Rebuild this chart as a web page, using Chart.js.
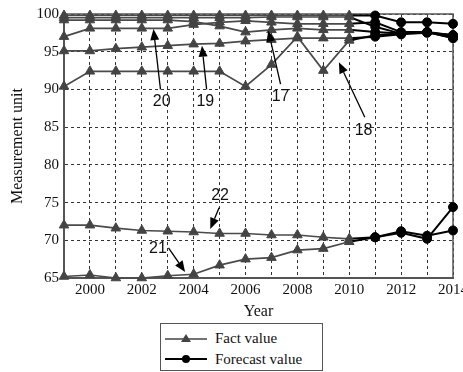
<!DOCTYPE html>
<html>
<head>
<meta charset="utf-8">
<script src="https://cdn.jsdelivr.net/npm/chart.js@4.4.1/dist/chart.umd.min.js"></script>
<style>
  html, body { margin: 0; padding: 0; background: #fff; }
  #wrap { position: relative; width: 463px; height: 372px; overflow: hidden; }
  #legend {
    position: absolute; left: 160px; top: 323px; width: 163px; height: 48px;
    border: 1px solid #555; box-sizing: border-box; background: #fff;
    font: 15px "Liberation Serif", "Times New Roman", serif; color: #111;
  }
  .item { position: absolute; left: 4px; height: 20px; display: flex; align-items: center; }
  .item span { margin-left: 8px; }
</style>
</head>
<body>
<div id="wrap">
  <canvas id="chart" width="463" height="372"></canvas>
  <div id="legend">
    <div class="item" style="top:4px">
      <svg width="42" height="14"><line x1="0" y1="8" x2="42" y2="8" stroke="#444" stroke-width="1.6"/><polygon points="21,3 26,11 16,11" fill="#444"/></svg>
      <span>Fact value</span>
    </div>
    <div class="item" style="top:25px">
      <svg width="42" height="14"><line x1="0" y1="7" x2="42" y2="7" stroke="#000" stroke-width="1.8"/><circle cx="21" cy="7" r="4" fill="#000"/></svg>
      <span>Forecast value</span>
    </div>
  </div>
</div>
<script>
// years 1999-2010 are measured (fact), 2011-2014 are forecast
const years = [1999, 2000, 2001, 2002, 2003, 2004, 2005, 2006, 2007, 2008, 2009, 2010, 2011, 2012, 2013, 2014];
const lastFactYear = 2010;

const s16a = [99.8, 99.8, 99.8, 99.8, 99.8, 99.8, 99.8, 99.8, 99.8, 99.8, 99.8, 99.8, 99.8, 98.9, 98.9, 98.7];
const s16b = [99.5, 99.5, 99.5, 99.5, 99.5, 99.5, 99.5, 99.5, 99.6, 99.6, 99.6, 99.6, 98.3, 97.4, 97.6, 97.2];
const s17 = [99.2, 99.2, 99.2, 99.2, 99.2, 99.0, 98.4, 97.6, 97.9, 98.1, 97.9, 97.9, 97.6, 97.4, 97.6, 96.8];
const s18 = [90.4, 92.4, 92.4, 92.4, 92.4, 92.4, 92.4, 90.4, 93.3, 97.0, 92.5, 96.5, 97.2, 97.4, 97.6, 96.8];
const s19 = [95.1, 95.1, 95.4, 95.6, 95.8, 96.0, 96.1, 96.4, 96.6, 96.8, 96.8, 96.8, 97.0, 97.3, 97.5, 97.2];
const s20 = [97.0, 98.1, 98.1, 98.1, 98.1, 98.6, 98.9, 99.1, 98.9, 98.7, 98.7, 98.7, 98.9, 97.6, 97.6, 97.0];
const s21 = [65.2, 65.4, 65.0, 65.0, 65.3, 65.5, 66.7, 67.5, 67.7, 68.7, 68.9, 69.8, 70.4, 71.0, 70.2, 74.4];
const s22 = [72.0, 72.0, 71.6, 71.3, 71.2, 71.1, 70.9, 70.9, 70.7, 70.7, 70.4, 70.2, 70.4, 71.2, 70.6, 71.3];

const xTickLabels = [2000, 2002, 2004, 2006, 2008, 2010, 2012, 2014];
const yTicks = [65, 70, 75, 80, 85, 90, 95, 100];

// numbered callouts: label position, arrow start and arrow tip, in data units
const callouts = [
  { label: '20', at: [2002.77, 88.4], from: [2002.72, 90.0], to: [2002.45, 98.0] },
  { label: '19', at: [2004.45, 88.4], from: [2004.5, 90.0], to: [2004.32, 95.8] },
  { label: '17', at: [2007.35, 89.0], from: [2007.35, 90.7], to: [2006.88, 97.8] },
  { label: '18', at: [2010.55, 84.6], from: [2010.6, 86.3], to: [2009.6, 93.6] },
  { label: '22', at: [2005.02, 75.9], from: [2004.98, 74.3], to: [2004.64, 71.5] },
  { label: '21', at: [2002.62, 68.9], from: [2003.03, 69.0], to: [2003.67, 65.8] }
];

const series = [s16a, s16b, s17, s18, s19, s20, s21, s22];
const factCount = years.filter(y => y <= lastFactYear).length;

const datasets = series.map(values => ({
  data: years.map((yr, i) => ({ x: yr, y: values[i] })),
  borderWidth: 1.7,
  borderColor: '#4a4a4a',
  segment: {
    borderColor: ctx => ctx.p1DataIndex >= factCount ? '#000' : '#4a4a4a',
    borderWidth: ctx => ctx.p1DataIndex >= factCount ? 2 : 1.7
  },
  pointStyle: years.map((yr, i) => i < factCount ? 'triangle' : 'circle'),
  pointRadius: years.map((yr, i) => i < factCount ? 5.5 : 4.5),
  pointBackgroundColor: years.map((yr, i) => i < factCount ? '#444' : '#000'),
  pointBorderColor: years.map((yr, i) => i < factCount ? '#444' : '#000'),
  pointBorderWidth: 1,
  tension: 0,
  clip: false
}));

const serif = '"Liberation Serif", "Times New Roman", serif';

const framePlugin = {
  id: 'frame',
  beforeDatasetsDraw(chart) {
    const { ctx, chartArea: a } = chart;
    ctx.save();
    ctx.strokeStyle = '#555';
    ctx.lineWidth = 1.5;
    ctx.strokeRect(a.left, a.top, a.right - a.left, a.bottom - a.top);
    ctx.restore();
  }
};

const calloutPlugin = {
  id: 'callouts',
  afterDatasetsDraw(chart) {
    const { ctx } = chart;
    const xs = chart.scales.x, ys = chart.scales.y;
    ctx.save();
    ctx.strokeStyle = '#000';
    ctx.fillStyle = '#000';
    ctx.lineWidth = 1.3;
    callouts.forEach(c => {
      const x1 = xs.getPixelForValue(c.from[0]), y1 = ys.getPixelForValue(c.from[1]);
      const x2 = xs.getPixelForValue(c.to[0]), y2 = ys.getPixelForValue(c.to[1]);
      const ang = Math.atan2(y2 - y1, x2 - x1);
      const head = 11, half = 4.5;
      const bx = x2 - Math.cos(ang) * head, by = y2 - Math.sin(ang) * head;
      ctx.beginPath();
      ctx.moveTo(x1, y1);
      ctx.lineTo(bx, by);
      ctx.stroke();
      ctx.beginPath();
      ctx.moveTo(x2, y2);
      ctx.lineTo(bx + Math.sin(ang) * half, by - Math.cos(ang) * half);
      ctx.lineTo(bx - Math.sin(ang) * half, by + Math.cos(ang) * half);
      ctx.closePath();
      ctx.fill();
      ctx.font = '16px "Liberation Sans", Arial, sans-serif';
      ctx.fillStyle = '#111';
      ctx.textAlign = 'center';
      ctx.textBaseline = 'middle';
      ctx.fillText(c.label, xs.getPixelForValue(c.at[0]), ys.getPixelForValue(c.at[1]));
      ctx.fillStyle = '#000';
    });
    ctx.restore();
  }
};

new Chart(document.getElementById('chart'), {
  type: 'line',
  data: { datasets },
  plugins: [framePlugin, calloutPlugin],
  options: {
    responsive: false,
    animation: false,
    layout: { padding: { top: 12, right: 10, bottom: 50, left: 0 } },
    plugins: { legend: { display: false }, tooltip: { enabled: false } },
    scales: {
      x: {
        type: 'linear',
        min: 1999,
        max: 2014,
        afterFit: s => { s.height = 44; s.paddingLeft = 0; s.paddingRight = 0; },
        ticks: {
          stepSize: 1,
          autoSkip: false,
          maxRotation: 0,
          padding: 3,
          color: '#111',
          font: { family: serif, size: 15 },
          callback: v => xTickLabels.includes(v) ? String(v) : ''
        },
        grid: { color: '#333', lineWidth: 1, drawTicks: false },
        border: { color: '#555', width: 2, dash: [3, 3] },
        title: { display: true, text: 'Year', color: '#111', font: { family: serif, size: 16 }, padding: { top: 0, bottom: 1 } }
      },
      y: {
        min: 65,
        max: 100,
        afterFit: s => { s.width = 64; },
        afterBuildTicks: s => { s.ticks = yTicks.map(v => ({ value: v })); },
        ticks: {
          padding: 5,
          color: '#111',
          font: { family: serif, size: 15 }
        },
        grid: { color: '#333', lineWidth: 1, drawTicks: false },
        border: { color: '#555', width: 2, dash: [3, 3] },
        title: { display: true, text: 'Measurement unit', color: '#111', font: { family: serif, size: 16 }, padding: { top: 8, bottom: 0 } }
      }
    }
  }
});
</script>
</body>
</html>
